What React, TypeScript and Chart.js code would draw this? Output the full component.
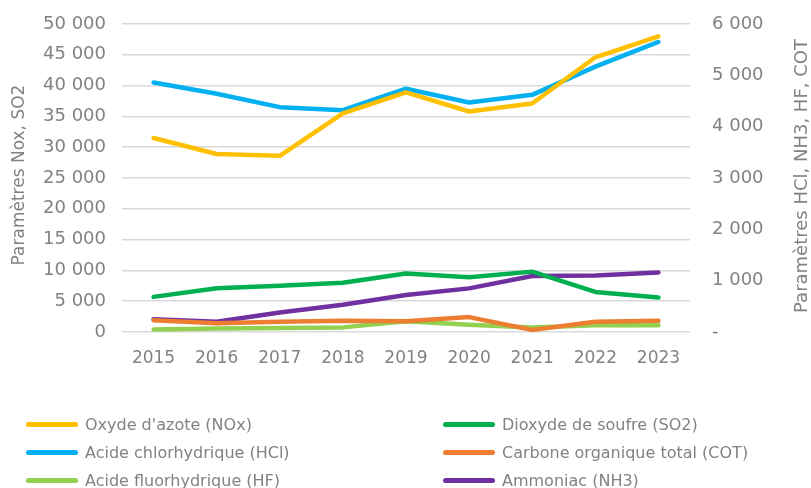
import React, { useEffect, useRef } from "react";
import { Chart, registerables } from "chart.js";

Chart.register(...registerables);

const years = ["2015", "2016", "2017", "2018", "2019", "2020", "2021", "2022", "2023"];

// Left axis (Nox, SO2)
const noxValues = [31500, 28900, 28600, 35500, 38900, 35800, 37100, 44600, 48000];
const so2Values = [5700, 7100, 7500, 8000, 9500, 8900, 9800, 6500, 5600];

// Right axis (HCl, NH3, HF, COT)
const hclValues = [4860, 4640, 4380, 4320, 4740, 4470, 4620, 5170, 5650];
const cotValues = [230, 170, 200, 220, 210, 290, 40, 200, 220];
const hfValues = [50, 70, 80, 90, 210, 140, 90, 130, 130];
const nh3Values = [250, 200, 380, 530, 720, 850, 1090, 1100, 1160];

const leftTitle = "Paramètres Nox, SO2";
const rightTitle = "Paramètres HCl, NH3, HF, COT";

const series = [
  { label: "Oxyde d'azote (NOx)", data: noxValues, color: "#FFC000", axis: "y" },
  { label: "Dioxyde de soufre (SO2)", data: so2Values, color: "#00B050", axis: "y" },
  { label: "Acide chlorhydrique (HCl)", data: hclValues, color: "#00B0F0", axis: "y1" },
  { label: "Carbone organique total (COT)", data: cotValues, color: "#ED7D31", axis: "y1" },
  { label: "Acide fluorhydrique (HF)", data: hfValues, color: "#92D050", axis: "y1" },
  { label: "Ammoniac (NH3)", data: nh3Values, color: "#7030A0", axis: "y1" },
];

const W = 811;
const H = 488;
const AREA_LEFT = 122;
const AREA_RIGHT = 690;
const AREA_TOP = 24;
const AREA_BOTTOM = 332;
const TEXT = "#828282";
const AXIS_FONT = "'DejaVu Sans', sans-serif";

const fmt = (v: number) => String(v).replace(/\B(?=(\d{3})+(?!\d))/g, " ");

// Axis titles, both reading bottom-to-top
const axisTitles = {
  id: "axisTitles",
  afterDraw(chart: Chart) {
    const { ctx } = chart;
    const drawTitle = (text: string, x: number, y: number, size: number) => {
      ctx.save();
      ctx.fillStyle = TEXT;
      ctx.font = `${size}px ${AXIS_FONT}`;
      ctx.textAlign = "center";
      ctx.textBaseline = "middle";
      ctx.translate(x, y);
      ctx.rotate(-Math.PI / 2);
      ctx.fillText(text, 0, 0);
      ctx.restore();
    };
    drawTitle(leftTitle, 20, 175, 17);
    drawTitle(rightTitle, 802, 176, 18);
  },
};

// Vertical axes: fixed width, no extra label padding above/below the plot
const fitVertical = (width: number) => (s: any) => {
  s.width = width;
  s.paddingTop = 0;
  s.paddingBottom = 0;
};

export default function App() {
  const canvasRef = useRef<HTMLCanvasElement>(null);

  useEffect(() => {
    if (!canvasRef.current) return;
    const chart = new Chart(canvasRef.current, {
      type: "line",
      data: {
        labels: years,
        datasets: series.map((s) => ({
          label: s.label,
          data: s.data,
          yAxisID: s.axis,
          borderColor: s.color,
          backgroundColor: s.color,
          borderWidth: 4.5,
          borderCapStyle: "round",
          borderJoinStyle: "round",
          pointRadius: 0,
          tension: 0,
        })),
      },
      options: {
        responsive: false,
        animation: false,
        layout: { padding: { top: AREA_TOP } },
        plugins: { legend: { display: false }, tooltip: { enabled: false } },
        scales: {
          x: {
            offset: true,
            grid: { display: false, drawTicks: false },
            border: { display: false },
            ticks: { color: TEXT, font: { family: AXIS_FONT, size: 17 }, padding: 16, maxRotation: 0 },
            afterFit(s: any) {
              s.height = H - AREA_BOTTOM;
            },
          },
          y: {
            position: "left",
            min: 0,
            max: 50000,
            grid: { color: "#d9d9d9", lineWidth: 1.5, drawTicks: false },
            border: { display: false },
            ticks: {
              stepSize: 5000,
              color: TEXT,
              font: { family: AXIS_FONT, size: 18 },
              padding: 16,
              callback: (v: any) => fmt(Number(v)),
            },
            afterFit: fitVertical(AREA_LEFT),
          },
          y1: {
            position: "right",
            min: 0,
            max: 6000,
            grid: { display: false, drawTicks: false },
            border: { display: false },
            ticks: {
              stepSize: 1000,
              color: TEXT,
              font: { family: AXIS_FONT, size: 18 },
              padding: 22,
              callback: (v: any) => (Number(v) === 0 ? "-" : fmt(Number(v))),
            },
            afterFit: fitVertical(W - AREA_RIGHT),
          },
        },
      },
      plugins: [axisTitles],
    } as any);
    return () => chart.destroy();
  }, []);

  const rows = [
    [series[0], series[1]],
    [series[2], series[3]],
    [series[4], series[5]],
  ];
  const rowY = [424, 452, 480];
  const colX = [26, 443];

  return (
    <div style={{ position: "fixed", left: 0, top: 0, width: W, height: H, background: "#fff", overflow: "hidden" }}>
      <canvas ref={canvasRef} width={W} height={H} style={{ display: "block", width: W, height: H }} />
      {rows.map((row, r) =>
        row.map((s, c) => (
          <div
            key={s.label}
            style={{
              position: "absolute",
              left: colX[c],
              top: rowY[r] - 11,
              height: 22,
              display: "flex",
              alignItems: "center",
              fontFamily: AXIS_FONT,
              fontSize: 16,
              color: TEXT,
              whiteSpace: "nowrap",
            }}
          >
            <span
              style={{
                display: "inline-block",
                width: 52,
                height: 5,
                borderRadius: 3,
                background: s.color,
                marginRight: 7,
              }}
            />
            <span>{s.label}</span>
          </div>
        ))
      )}
    </div>
  );
}
